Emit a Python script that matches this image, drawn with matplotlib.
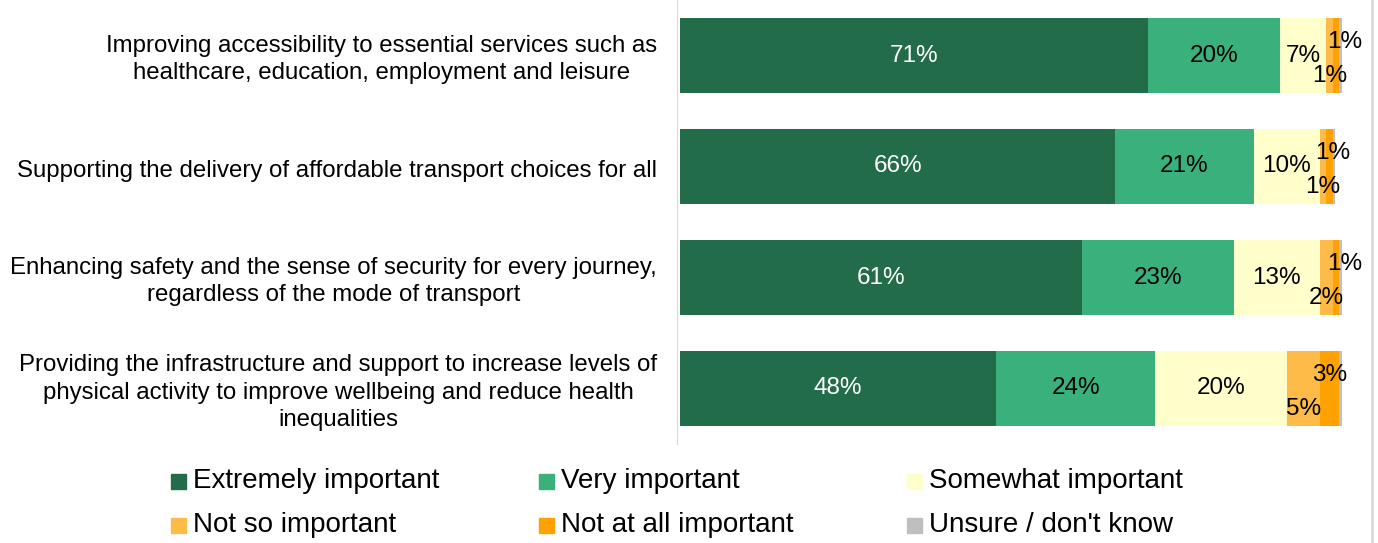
import matplotlib.pyplot as plt
from matplotlib.patches import Rectangle
from matplotlib.lines import Line2D

plt.rcParams['font.family'] = ['Liberation Sans', 'DejaVu Sans']

statements = [
    "Improving accessibility to essential services such as\nhealthcare, education, employment and leisure",
    "Supporting the delivery of affordable transport choices for all",
    "Enhancing safety and the sense of security for every journey,\nregardless of the mode of transport",
    "Providing the infrastructure and support to increase levels of\nphysical activity to improve wellbeing and reduce health\ninequalities",
]
responses = ["Extremely important", "Very important", "Somewhat important",
             "Not so important", "Not at all important", "Unsure / don't know"]
extremely = [71, 66, 61, 48]
very = [20, 21, 23, 24]
somewhat = [7, 10, 13, 20]
not_so = [1, 1, 2, 5]
not_at_all = [1, 1, 1, 3]
unsure = [0.4, 0.4, 0.4, 0.4]

colors = ["#226c4a", "#3ab17d", "#ffffcc", "#ffbb47", "#ffa200", "#bfbfbf"]

series = [extremely, very, somewhat, not_so, not_at_all, unsure]

W, H = 1378, 543
fig = plt.figure(figsize=(W / 100, H / 100), dpi=100)
ax = fig.add_axes([680 / W, 1 - 444 / H, (1342 - 680) / W, 444 / H])

ypos = list(range(len(statements)))
left = [0] * len(statements)
for k, vals in enumerate(series):
    ax.barh(ypos, vals, left=left, height=0.68, color=colors[k], edgecolor='none')
    for i, v in enumerate(vals):
        cx = left[i] + v / 2
        if k < 3:
            ax.text(cx, i, f"{v}%", ha='center', va='center', fontsize=17.5,
                    color='white' if k == 0 else 'black')
        elif k == 3:
            ax.annotate(f"{v}%", (cx, i), xytext=(0, -15), textcoords='offset points',
                        ha='center', va='center', fontsize=17.5)
        elif k == 4:
            dx = [6, 2.5, 6, 0][i]
            ax.annotate(f"{v}%", (cx, i), xytext=(dx, 10), textcoords='offset points',
                        ha='center', va='center', fontsize=17.5)
    left = [a + b for a, b in zip(left, vals)]

# category labels to the left of the bars
for i, s in enumerate(statements):
    ax.annotate(s, (0, i), xytext=(-23, -4), textcoords='offset pixels',
                ha='right', va='center', multialignment='center',
                fontsize=17.3, linespacing=1.3, annotation_clip=False)

ax.set_xlim(0, 100.4)
ax.set_ylim(3.5, -0.5)
ax.set_xticks([])
ax.set_yticks([])
for s in ['top', 'right', 'bottom']:
    ax.spines[s].set_visible(False)
ax.spines['left'].set_color('#d9d9d9')
ax.spines['left'].set_position(('outward', 2))

# legend, three columns by two rows
for i, name in enumerate(responses):
    col, row = i % 3, i // 3
    x = 171 + 368 * col
    y = 481 + 44 * row
    fig.patches.append(Rectangle((x / W, 1 - (y + 7.5) / H), 15 / W, 15 / H,
                                 transform=fig.transFigure, color=colors[i]))
    fig.text((x + 22) / W, 1 - y / H, name, ha='left', va='center', fontsize=20)

fig.add_artist(Line2D([1372 / W, 1372 / W], [0, 1], color='#d9d9d9', lw=2,
                      transform=fig.transFigure))

fig.savefig('out.png', dpi=100)
